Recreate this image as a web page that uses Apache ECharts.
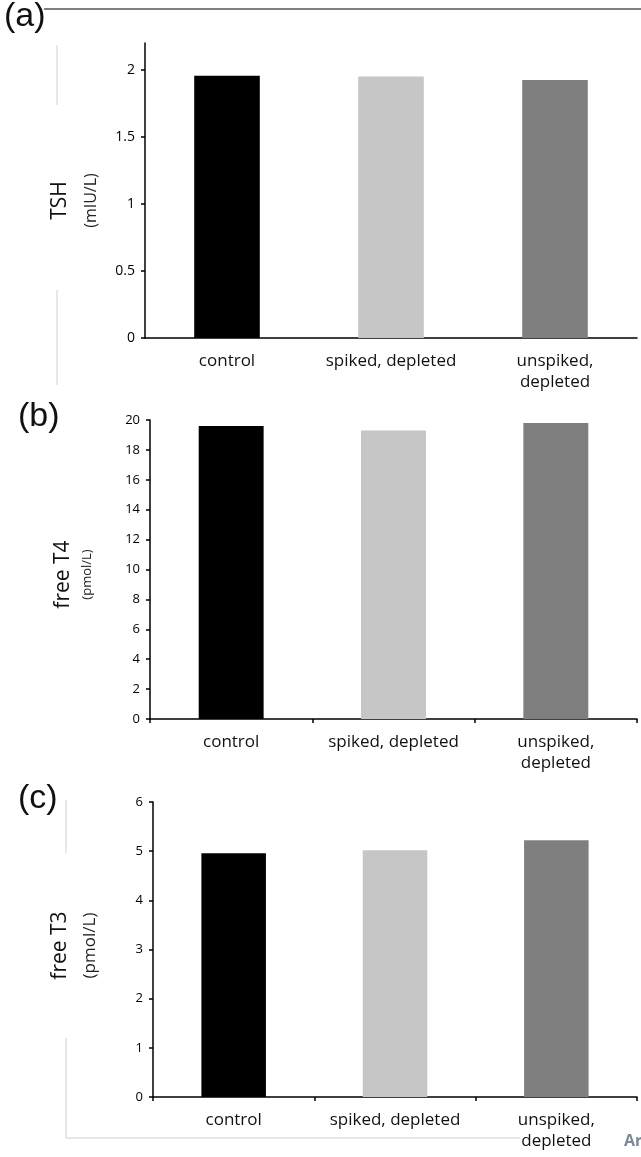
<!DOCTYPE html>
<html>
<head>
<meta charset="utf-8">
<script src="https://cdn.jsdelivr.net/npm/echarts@6/dist/echarts.min.js"></script>
<style>
html,body{margin:0;padding:0;background:#fff;}
#chart{width:641px;height:1157px;}
</style>
</head>
<body>
<div id="chart"></div>
<script>
// ---- data ----
const categories = ['control', 'spiked, depleted', 'unspiked,\ndepleted'];
const tshValues = [1.955, 1.95, 1.925];
const ft4Values = [19.6, 19.3, 19.8];
const ft3Values = [4.96, 5.02, 5.22];
const tshTicks = [0, 0.5, 1, 1.5, 2];
const panelLabels = ['(a)', '(b)', '(c)'];
const axisTitles = [['TSH', '(mIU/L)'], ['free T4', '(pmol/L)'], ['free T3', '(pmol/L)']];

// ---- style ----
const BAR_COLORS = ['#000000', '#c6c6c6', '#7f7f7f'];
const FONT = '"Open Sans", "DejaVu Sans", sans-serif';
const grids = [
  {left: 145, right: 4, top: 43, height: 295},
  {left: 150, right: 4, top: 420, height: 299},
  {left: 153, right: 4, top: 802, height: 295}
];

function xAxis(i, showTicks) {
  return {
    type: 'category', gridIndex: i, data: categories,
    axisLine: {lineStyle: {color: '#000', width: 1.5}},
    axisTick: {show: showTicks, length: 4, lineStyle: {color: '#000', width: 1.5}},
    axisLabel: {color: '#111', fontFamily: FONT, fontSize: 17, lineHeight: 21, margin: 13, interval: 0}
  };
}
function yAxis(i, min, max, interval, titleIdx, t, extra) {
  const ax = {
    type: 'value', gridIndex: i, min: min, max: max, interval: interval,
    splitLine: {show: false},
    axisLine: {show: true, lineStyle: {color: '#000', width: 1.5}},
    axisTick: {show: true, length: 4, lineStyle: {color: '#000', width: 1.5}},
    axisLabel: {color: '#000', fontFamily: FONT, fontSize: 13, margin: 10},
    name: '{m|' + axisTitles[titleIdx][0] + '}\n{s|' + axisTitles[titleIdx][1] + '}',
    nameLocation: 'middle', nameRotate: 90, nameGap: t.gap,
    nameTextStyle: {
      padding: t.pad,
      rich: {
        m: {fontFamily: FONT, fontSize: t.ms, color: '#111', lineHeight: t.mlh},
        s: {fontFamily: FONT, fontSize: t.ss, color: '#222', lineHeight: t.slh}
      }
    }
  };
  if (extra) Object.assign(ax, extra);
  return ax;
}
function barSeries(i, values) {
  return {
    type: 'bar', xAxisIndex: i, yAxisIndex: i, data: values, barWidth: '40%',
    itemStyle: {color: function (p) { return BAR_COLORS[p.dataIndex]; }},
    silent: true
  };
}

const chart = echarts.init(document.getElementById('chart'), null, {renderer: 'canvas'});
chart.setOption({
  animation: false,
  backgroundColor: '#fff',
  grid: grids,
  xAxis: [xAxis(0, false), xAxis(1, true), xAxis(2, true)],
  yAxis: [
    yAxis(0, 0, 2.2, 0.5, 0, {gap: 38, ms: 21, ss: 16, mlh: 30, slh: 32, pad: [0, 20, 0, 0]}, {
      axisLabel: {color: '#000', fontFamily: FONT, fontSize: 14, margin: 10, customValues: tshTicks},
      axisTick: {show: true, length: 4, customValues: tshTicks, lineStyle: {color: '#000', width: 1.5}}
    }),
    yAxis(1, 0, 20, 2, 1, {gap: 53, ms: 21, ss: 13, mlh: 28, slh: 20, pad: [0, 10, 0, 0]}),
    yAxis(2, 0, 6, 1, 2, {gap: 48, ms: 21, ss: 17, mlh: 30, slh: 30, pad: [0, 0, 0, 8]})
  ],
  series: [barSeries(0, tshValues), barSeries(1, ft4Values), barSeries(2, ft3Values)],
  graphic: [
    {type: 'line', shape: {x1: 44, y1: 9, x2: 641, y2: 9}, style: {stroke: '#555', lineWidth: 1.5}},
    {type: 'line', shape: {x1: 57, y1: 45, x2: 57, y2: 105}, style: {stroke: '#d0d0d0', lineWidth: 1}},
    {type: 'line', shape: {x1: 57, y1: 290, x2: 57, y2: 385}, style: {stroke: '#d0d0d0', lineWidth: 1}},
    {type: 'line', shape: {x1: 66, y1: 800, x2: 66, y2: 853}, style: {stroke: '#d0d0d0', lineWidth: 1}},
    {type: 'line', shape: {x1: 66, y1: 1038, x2: 66, y2: 1138}, style: {stroke: '#d0d0d0', lineWidth: 1}},
    {type: 'line', shape: {x1: 66, y1: 1138, x2: 520, y2: 1138}, style: {stroke: '#d0d0d0', lineWidth: 1}},
    {type: 'text', left: 4, top: 0, style: {text: panelLabels[0], font: '34px "Liberation Sans", Arial, sans-serif', fill: '#111'}},
    {type: 'text', left: 18, top: 400, style: {text: panelLabels[1], font: '34px "Liberation Sans", Arial, sans-serif', fill: '#111'}},
    {type: 'text', left: 18, top: 782, style: {text: panelLabels[2], font: '34px "Liberation Sans", Arial, sans-serif', fill: '#111'}},
    {type: 'text', left: 624, top: 1133, style: {text: 'Ar', font: 'bold 16px "Open Sans", sans-serif', fill: '#7d8896'}}
  ]
});
</script>
</body>
</html>
